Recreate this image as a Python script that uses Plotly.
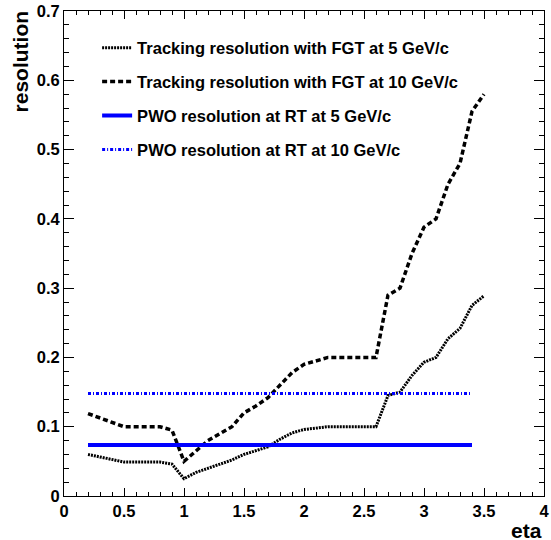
import plotly.graph_objects as go

eta = [0.2, 0.3, 0.4, 0.5, 0.6, 0.7, 0.8, 0.9, 1.0, 1.1, 1.2, 1.3, 1.4, 1.5, 1.6, 1.7,
       1.8, 1.9, 2.0, 2.1, 2.2, 2.3, 2.4, 2.5, 2.6, 2.7, 2.8, 2.9, 3.0, 3.1, 3.2, 3.3,
       3.4, 3.5]
trk_5 = [0.060, 0.056, 0.052, 0.049, 0.049, 0.049, 0.049, 0.046, 0.025, 0.034, 0.040,
         0.046, 0.052, 0.060, 0.065, 0.071, 0.082, 0.091, 0.096, 0.098, 0.100, 0.100,
         0.100, 0.100, 0.100, 0.145, 0.150, 0.174, 0.193, 0.200, 0.227, 0.242, 0.275,
         0.289]
trk_10 = [0.119, 0.113, 0.106, 0.100, 0.100, 0.100, 0.100, 0.095, 0.050, 0.065, 0.080,
          0.090, 0.100, 0.120, 0.130, 0.142, 0.160, 0.178, 0.190, 0.195, 0.200, 0.200,
          0.200, 0.200, 0.200, 0.290, 0.300, 0.350, 0.388, 0.400, 0.450, 0.480, 0.555,
          0.580]
pwo_eta = [0.2, 3.4]
pwo_5 = [0.0735, 0.0735]
pwo_10 = [0.148, 0.148]

names = ["Tracking resolution with FGT at 5 GeV/c",
         "Tracking resolution with FGT at 10 GeV/c",
         "PWO resolution at RT at 5 GeV/c",
         "PWO resolution at RT at 10 GeV/c"]

FONT = "Liberation Sans, Arial, sans-serif"

fig = go.Figure()
fig.add_trace(go.Scatter(x=eta, y=trk_5, mode="lines", name=names[0], legendgroup="a",
                         line=dict(color="black", width=3, dash="2px,1px")))
fig.add_trace(go.Scatter(x=eta, y=trk_10, mode="lines", name=names[1], legendgroup="b",
                         line=dict(color="black", width=3.5, dash="5px,3px")))
fig.add_trace(go.Scatter(x=pwo_eta, y=pwo_5, mode="lines", name=names[2], legendgroup="c",
                         line=dict(color="#0000ff", width=4)))
fig.add_trace(go.Scatter(x=pwo_eta, y=pwo_10, mode="lines", name=names[3], legendgroup="d",
                         line=dict(color="#0000ff", width=3, dash="3px,2px,1px,2px")))

axis_common = dict(
    showgrid=False, zeroline=False, showline=True, linecolor="black", linewidth=1,
    mirror="allticks", ticks="inside", tickcolor="black", tickwidth=1,
    ticklabeloverflow="allow",
    tickfont=dict(family=FONT, size=16.5, color="black", weight="bold"),
)
fig.update_xaxes(range=[0, 4], dtick=0.5, tick0=0, ticklen=8,
                 minor=dict(dtick=0.1, ticklen=4, ticks="inside", tickcolor="black", showgrid=False),
                 **axis_common)
fig.update_yaxes(range=[0, 0.7], dtick=0.1, tick0=0, ticklen=10,
                 minor=dict(dtick=0.02, ticklen=5, ticks="inside", tickcolor="black", showgrid=False),
                 **axis_common)

fig.add_annotation(text="resolution", xref="paper", yref="paper",
                   x=(20 - 64) / 485, y=(496 - 7) / 486, xanchor="center", yanchor="top",
                   textangle=-90, showarrow=False,
                   font=dict(family=FONT, size=21, color="black", weight="bold"))
fig.add_annotation(text="eta", xref="paper", yref="paper",
                   x=1.0, y=(496 - 531) / 486, xanchor="right", yanchor="middle",
                   showarrow=False,
                   font=dict(family=FONT, size=21, color="black", weight="bold"))

fig.update_layout(
    width=551, height=540,
    margin=dict(l=64, r=2, t=10, b=44),
    paper_bgcolor="white", plot_bgcolor="white",
    showlegend=True,
    legend=dict(x=0.069, y=0.96, xanchor="left", yanchor="top",
                bgcolor="rgba(0,0,0,0)", borderwidth=0,
                traceorder="grouped", tracegroupgap=9.5,
                font=dict(family=FONT, size=16.5, color="black", weight="bold")),
)

fig.write_html("out.html")
